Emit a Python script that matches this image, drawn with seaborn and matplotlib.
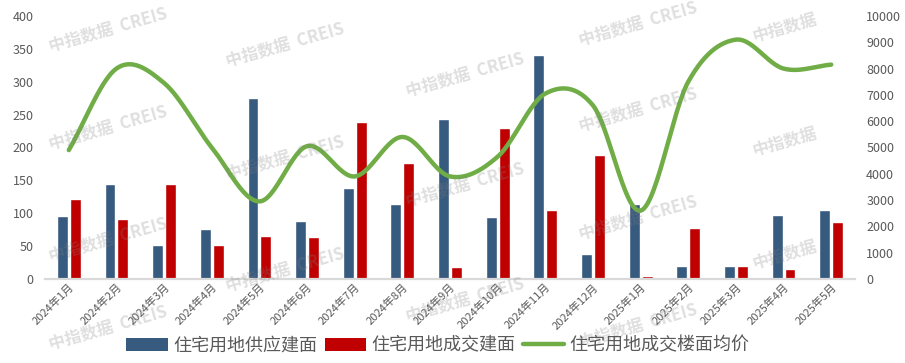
import numpy as np
import pandas as pd
import seaborn as sns
import matplotlib.pyplot as plt
from matplotlib.patches import Patch
from matplotlib.lines import Line2D

# data
months = ['2024年1月', '2024年2月', '2024年3月', '2024年4月', '2024年5月', '2024年6月',
          '2024年7月', '2024年8月', '2024年9月', '2024年10月', '2024年11月', '2024年12月',
          '2025年1月', '2025年2月', '2025年3月', '2025年4月', '2025年5月']
supply_area = [96, 145, 52, 76, 275, 88, 138, 114, 243, 94, 341, 38, 114, 20, 20, 97, 105]
deal_area = [121, 92, 145, 52, 65, 64, 239, 176, 18, 230, 105, 189, 5, 78, 20, 15, 87]
avg_price = [4900, 8000, 7450, 5000, 2950, 5050, 3900, 5400, 3900, 4650,
             7050, 6600, 2600, 7500, 9100, 8000, 8150]

series_names = ['住宅用地供应建面', '住宅用地成交建面', '住宅用地成交楼面均价']
left_ticks = list(range(0, 401, 50))
right_ticks = list(range(0, 10001, 1000))

BLUE = '#375A7F'
RED = '#C00000'
GREEN = '#70AD47'
TXT = '#595959'


def smooth(x, y, n=30):
    # catmull-rom style smoothing, roughly like Excel's smoothed line
    x = np.asarray(x, float)
    y = np.asarray(y, float)
    px = np.concatenate([[2 * x[0] - x[1]], x, [2 * x[-1] - x[-2]]])
    py = np.concatenate([[2 * y[0] - y[1]], y, [2 * y[-1] - y[-2]]])
    xs, ys = [], []
    t = np.linspace(0, 1, n)
    for i in range(1, len(px) - 2):
        p0, p1, p2, p3 = [np.array([px[j], py[j]]) for j in range(i - 1, i + 3)]
        pts = 0.5 * ((2 * p1)[:, None] + (-p0 + p2)[:, None] * t
                     + (2 * p0 - 5 * p1 + 4 * p2 - p3)[:, None] * t ** 2
                     + (-p0 + 3 * p1 - 3 * p2 + p3)[:, None] * t ** 3)
        xs.extend(pts[0])
        ys.extend(pts[1])
    return np.array(xs), np.array(ys)


sns.set_theme(style='white')
plt.rcParams['font.family'] = ['Noto Sans CJK SC', 'DejaVu Sans']

df = pd.DataFrame({
    'month': months * 2,
    'value': supply_area + deal_area,
    'series': [series_names[0]] * len(months) + [series_names[1]] * len(months),
})

fig = plt.figure(figsize=(9.05, 3.63), dpi=100)
ax = fig.add_axes([0.0497, 0.2314, 0.8951, 0.7246])

sns.barplot(data=df, x='month', y='value', hue='series', order=months,
            palette=[BLUE, RED], width=0.54, gap=0.15, dodge=True,
            legend=False, ax=ax, saturation=1)
ax.set_xlim(-0.5, len(months) - 0.5)
ax.set_ylim(0, 400)
ax.set_yticks(left_ticks)
ax.set_xlabel('')
ax.set_ylabel('')
ax.tick_params(axis='y', labelsize=9, colors=TXT, length=0, pad=8)
ax.tick_params(axis='x', labelsize=8, colors=TXT, length=0, pad=2)
for lab in ax.get_xticklabels():
    lab.set_rotation(45)
    lab.set_ha('right')
    lab.set_rotation_mode('anchor')
for s in ['top', 'right', 'left']:
    ax.spines[s].set_visible(False)
ax.spines['bottom'].set_color('#D9D9D9')
ax.spines['bottom'].set_linewidth(1.6)

ax2 = ax.twinx()
sx, sy = smooth(np.arange(len(months)), avg_price)
sns.lineplot(x=sx, y=sy, sort=False, color=GREEN, linewidth=3.2, ax=ax2)
ax2.set_ylim(0, 10000)
ax2.set_yticks(right_ticks)
ax2.set_yticklabels([str(v) for v in right_ticks])
ax2.tick_params(axis='y', labelsize=9, colors=TXT, length=0, pad=8)
for s in ax2.spines.values():
    s.set_visible(False)

handles = [Patch(facecolor=BLUE, edgecolor='none'),
           Patch(facecolor=RED, edgecolor='none'),
           Line2D([0], [0], color=GREEN, linewidth=3.2)]
fig.legend(handles, series_names, loc='center', bbox_to_anchor=(0.484, 0.048),
           ncol=3, frameon=False, fontsize=13, labelcolor=TXT,
           handlelength=2.3, handleheight=0.7, handletextpad=0.3,
           columnspacing=0.4, borderaxespad=0)

# faint watermark
W, H = 905, 363
marks = [(108, 30), (108, 128), (108, 240), (108, 328),
         (285, 45), (285, 158), (285, 270),
         (465, 75), (465, 185), (465, 300),
         (638, 24), (638, 110), (638, 218), (638, 326)]
for mx, my in marks:
    fig.text(mx / W, 1 - my / H, '中指数据  CREIS', fontsize=12, fontweight='bold',
             color='gray', alpha=0.25, rotation=16, ha='center', va='center')
for my in [28, 142, 255]:
    fig.text(785 / W, 1 - my / H, '中指数据', fontsize=12, fontweight='bold',
             color='gray', alpha=0.25, rotation=16, ha='center', va='center')

fig.savefig('out.png', dpi=100)
